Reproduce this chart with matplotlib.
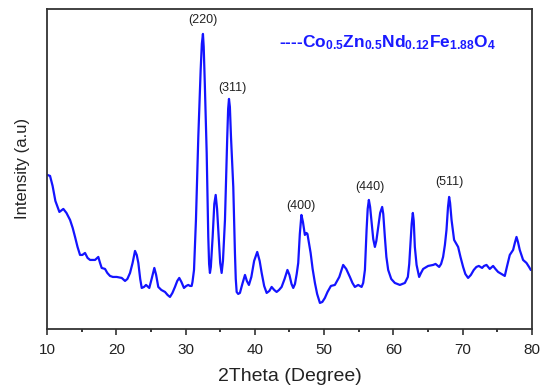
import matplotlib
matplotlib.use("Agg")
import matplotlib.pyplot as plt

plt.rcParams["font.family"] = ["Liberation Sans", "DejaVu Sans"]
plt.rcParams["mathtext.fontset"] = "custom"
plt.rcParams["mathtext.rm"] = "Liberation Sans"
plt.rcParams["mathtext.bf"] = "Liberation Sans:bold"
plt.rcParams["mathtext.default"] = "bf"

# XRD pattern (2theta in degrees, intensity in arbitrary units)
two_theta = [
    10.04, 10.43, 10.80, 11.20, 11.78, 12.35, 12.80, 13.32, 13.70, 14.04,
    14.40, 14.76, 15.10, 15.48, 15.85, 16.21, 16.93, 17.40, 17.65, 17.89,
    18.37, 18.70, 19.09, 19.50, 20.06, 20.78, 21.26, 21.60, 21.98, 22.35,
    22.70, 22.95, 23.18, 23.45, 23.67, 24.00, 24.29, 24.76, 25.10, 25.49,
    25.75, 26.06, 26.50, 27.03, 27.40, 27.75, 28.10, 28.47, 28.80, 29.09,
    29.40, 29.77, 30.10, 30.39, 30.65, 30.88, 31.00, 31.22, 31.50, 31.84,
    32.18, 32.35, 32.51, 32.62, 32.78, 33.05, 33.28, 33.40, 33.52, 33.65,
    33.91, 34.15, 34.35, 34.55, 34.78, 35.00, 35.21, 35.40, 35.69, 36.02,
    36.15, 36.27, 36.40, 36.56, 36.89, 37.13, 37.25, 37.38, 37.60, 37.85,
    38.20, 38.58, 38.85, 39.15, 39.50, 39.90, 40.35, 40.70, 40.99, 41.35,
    41.71, 42.10, 42.43, 42.80, 43.15, 43.50, 43.87, 44.30, 44.71, 45.00,
    45.30, 45.55, 45.80, 46.05, 46.27, 46.50, 46.73, 46.95, 47.23, 47.45,
    47.60, 47.80, 48.06, 48.35, 48.68, 49.00, 49.40, 49.75, 50.12, 50.50,
    50.99, 51.56, 52.20, 52.76, 53.20, 53.73, 54.10, 54.45, 54.93, 55.42,
    55.65, 55.90, 56.14, 56.30, 56.47, 56.65, 56.87, 57.10, 57.34, 57.55,
    57.82, 58.10, 58.39, 58.55, 58.78, 59.00, 59.26, 59.70, 60.22, 60.95,
    61.67, 62.10, 62.30, 62.49, 62.65, 62.82, 62.95, 63.11, 63.36, 63.73,
    64.00, 64.31, 65.03, 65.75, 66.10, 66.62, 66.90, 67.19, 67.45, 67.68,
    67.90, 68.06, 68.20, 68.41, 68.78, 69.36, 69.70, 70.08, 70.40, 70.80,
    71.20, 71.62, 72.00, 72.35, 72.82, 73.10, 73.46, 73.93, 74.41, 74.75,
    75.13, 75.60, 76.10, 76.40, 76.82, 77.30, 77.55, 77.79, 78.00, 78.26,
    78.74, 79.23, 79.60, 79.85,
]
intensity = [
    154, 153, 143, 128, 117, 120, 116, 109, 101, 92,
    82, 74, 74, 76, 71, 69, 69, 72, 66, 61,
    60, 56, 53, 52, 52, 51, 48, 50, 56, 66,
    78, 74, 66, 50, 41, 42, 44, 41, 50, 61,
    54, 42, 39, 37, 34, 32, 36, 42, 48, 51,
    47, 41, 43, 44, 43, 43, 47, 59, 109, 192,
    259, 285, 295, 282, 245, 176, 92, 65, 56, 62,
    92, 125, 134, 120, 92, 66, 56, 68, 109, 192,
    220, 230, 222, 192, 142, 76, 50, 37, 35, 36,
    45, 54, 48, 44, 52, 68, 77, 68, 56, 43,
    36, 38, 42, 39, 37, 39, 42, 50, 59, 54,
    45, 41, 45, 55, 66, 95, 114, 107, 94, 96,
    95, 87, 76, 60, 46, 35, 26, 27, 31, 37,
    43, 44, 52, 64, 60, 52, 46, 42, 44, 42,
    46, 59, 99, 120, 129, 122, 106, 90, 82, 88,
    102, 116, 122, 115, 92, 72, 59, 50, 46, 44,
    46, 52, 65, 86, 105, 116, 108, 82, 64, 52,
    56, 60, 63, 64, 65, 62, 65, 72, 84, 99,
    122, 132, 126, 109, 89, 82, 72, 62, 55, 51,
    54, 59, 62, 63, 61, 63, 64, 60, 63, 60,
    57, 55, 53, 62, 74, 79, 86, 92, 87, 79,
    69, 66, 62, 59,
]

# Miller indices of the main spinel reflections
hkl_labels = ["(220)", "(311)", "(400)", "(440)", "(511)"]
hkl_x = [32.5, 36.7, 46.7, 56.6, 68.1]
hkl_y = [309, 241, 123, 142, 147]

fig = plt.figure(figsize=(5.41, 3.87), dpi=100)
ax = fig.add_axes([0.087, 0.150, 0.896, 0.827])

ax.plot(two_theta, intensity, color="#1414ff", lw=1.6,
        solid_joinstyle="round", solid_capstyle="round")

for lab, xx, yy in zip(hkl_labels, hkl_x, hkl_y):
    ax.text(xx, yy, lab, ha="center", va="center", fontsize=9, color="#222222")

ax.text(0.478, 0.895,
        r"----Co$_{0.5}$Zn$_{0.5}$Nd$_{0.12}$Fe$_{1.88}$O$_{4}$",
        transform=ax.transAxes, color="#1a1aff", fontsize=12.5,
        fontweight="bold", ha="left", va="center")

ax.set_xlim(10, 80)
ax.set_ylim(0, 320)
ax.set_xticks(range(10, 81, 10))
ax.set_xticks(range(15, 80, 10), minor=True)
ax.set_yticks([])
ax.tick_params(axis="x", direction="out", length=4, width=1.1, pad=6,
               labelsize=11, colors="#222222")
ax.tick_params(axis="x", which="minor", direction="out", length=2.5, width=1.1)
for s in ax.spines.values():
    s.set_linewidth(1.3)
    s.set_color("#333333")

ax.set_xlabel("2Theta (Degree)", fontsize=14, color="#222222", labelpad=8)
ax.set_ylabel("Intensity (a.u)", fontsize=12, color="#222222", labelpad=12)

fig.savefig("out.png", dpi=100)
